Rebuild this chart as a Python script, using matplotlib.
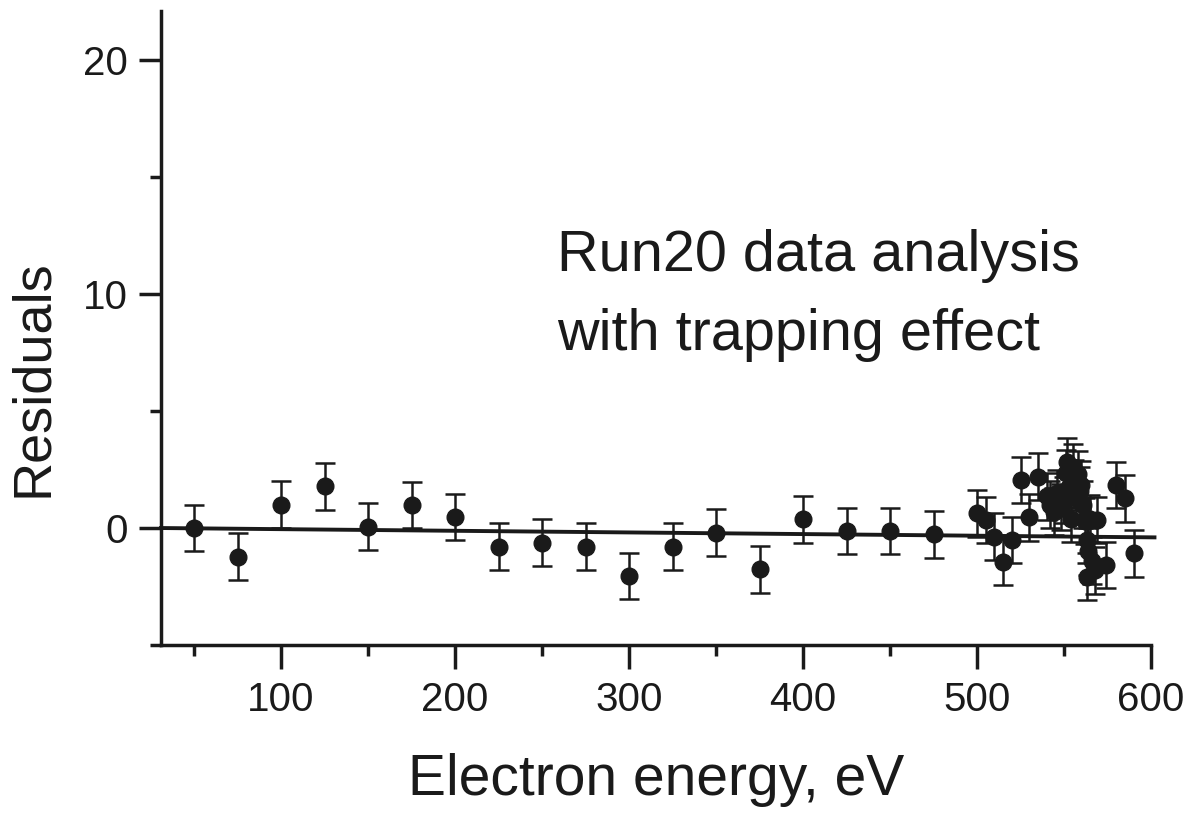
import matplotlib
matplotlib.use('Agg')
import matplotlib.pyplot as plt
from matplotlib.ticker import MultipleLocator

plt.rcParams['font.family'] = ['Liberation Sans', 'DejaVu Sans']

# residuals (energy in eV, residual, error)
energy = [50, 75, 100, 125, 150, 175, 200, 225, 250, 275,
          300, 325, 350, 375, 400, 425, 450, 475, 500, 505,
          510, 515, 520, 525, 530, 535, 540, 542, 544, 546,
          548, 550, 551, 552, 553, 554, 555, 556, 557, 558,
          559, 560, 561, 562, 563, 564, 565, 566, 563, 568,
          569, 574, 580, 585, 590]
resid = [0.0, -1.23, 1.0, 1.78, 0.05, 0.98, 0.47, -0.8, -0.63, -0.8,
         -2.05, -0.8, -0.2, -1.76, 0.38, -0.13, -0.13, -0.26, 0.63, 0.34,
         -0.37, -1.44, -0.51, 2.05, 0.46, 2.19, 1.35, 1.0, 0.7, 1.5,
         0.9, 1.2, 2.35, 2.83, 1.75, 0.4, 2.6, 1.9, 1.3, 2.3,
         1.6, 1.85, 1.0, 0.3, -0.5, -1.0, 0.4, -1.4, -2.08, -1.8,
         0.34, -1.58, 1.84, 1.27, -1.08]
err = [1.0] * len(energy)

# fitted line (zero residual, slightly tilted in the scan)
line_x = [31, 602]
line_y = [0.0, -0.4]

ink = '#1a1a1a'

fig = plt.figure(figsize=(11.93, 8.24), dpi=100)
ax = fig.add_axes([161 / 1193, 1 - 645 / 824, (1151 - 161) / 1193, (645 - 11) / 824])

ax.plot(line_x, line_y, color=ink, lw=2.8, clip_on=False, zorder=2)
ax.errorbar(energy, resid, yerr=err, fmt='o', color=ink, ms=12, elinewidth=1.8,
            capsize=7, capthick=1.8, clip_on=False, zorder=3)

ax.set_xlim(31, 600)
ax.set_ylim(-5.0, 22.1)

for s in ['top', 'right']:
    ax.spines[s].set_visible(False)
for s in ['left', 'bottom']:
    ax.spines[s].set_linewidth(2.5)
    ax.spines[s].set_color(ink)

ax.xaxis.set_major_locator(MultipleLocator(100))
ax.xaxis.set_minor_locator(MultipleLocator(50))
ax.yaxis.set_major_locator(MultipleLocator(10))
ax.yaxis.set_minor_locator(MultipleLocator(5))
ax.tick_params(which='major', direction='out', length=16, width=2.5, color=ink,
               labelsize=29, labelcolor=ink)
ax.tick_params(axis='x', which='major', length=17, pad=9)
ax.tick_params(axis='y', which='major', pad=8)
ax.tick_params(which='minor', direction='out', length=8, width=2.5, color=ink)

fig.text(33 / 1193, 1 - 378 / 824, 'Residuals', rotation=90, fontsize=39,
         color=ink, ha='center', va='center')
fig.text(656 / 1193, 1 - 795 / 824, 'Electron energy, eV', fontsize=41,
         color=ink, ha='center', va='baseline')
fig.text(557 / 1193, 1 - 271 / 824, 'Run20 data analysis', fontsize=41.5,
         color=ink, ha='left', va='baseline')
fig.text(557 / 1193, 1 - 350 / 824, 'with trapping effect', fontsize=41.5,
         color=ink, ha='left', va='baseline')

fig.savefig('out.png', dpi=100)
